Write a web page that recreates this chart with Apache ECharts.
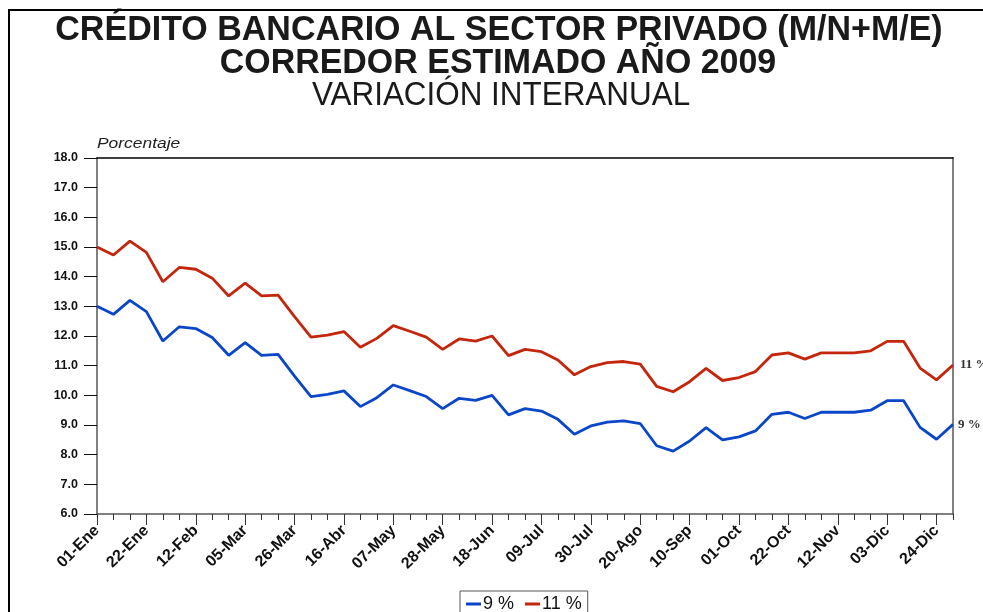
<!DOCTYPE html>
<html>
<head>
<meta charset="utf-8">
<script src="https://cdn.jsdelivr.net/npm/echarts@6/dist/echarts.min.js"></script>
<style>html,body{margin:0;padding:0;background:#fff;}#c{width:983px;height:612px;}</style>
</head>
<body>
<div id="c"></div>
<script>
const categories = ['01-Ene','08-Ene','15-Ene','22-Ene','29-Ene','05-Feb','12-Feb','19-Feb','26-Feb','05-Mar','12-Mar','19-Mar','26-Mar','02-Abr','09-Abr','16-Abr','23-Abr','30-Abr','07-May','14-May','21-May','28-May','04-Jun','11-Jun','18-Jun','25-Jun','02-Jul','09-Jul','16-Jul','23-Jul','30-Jul','06-Ago','13-Ago','20-Ago','27-Ago','03-Sep','10-Sep','17-Sep','24-Sep','01-Oct','08-Oct','15-Oct','22-Oct','29-Oct','05-Nov','12-Nov','19-Nov','26-Nov','03-Dic','10-Dic','17-Dic','24-Dic','31-Dic'];
const series9 = [13.0,12.73,13.2,12.82,11.83,12.31,12.25,11.95,11.35,11.78,11.35,11.38,10.65,9.96,10.03,10.15,9.62,9.92,10.35,10.16,9.96,9.55,9.9,9.83,10.0,9.34,9.55,9.47,9.19,8.69,8.97,9.1,9.14,9.05,8.3,8.12,8.46,8.91,8.5,8.6,8.8,9.36,9.43,9.22,9.43,9.43,9.43,9.5,9.82,9.82,8.92,8.52,9.02];
const series11 = [15.0,14.73,15.2,14.82,13.83,14.31,14.25,13.95,13.35,13.78,13.35,13.38,12.65,11.96,12.03,12.15,11.62,11.92,12.35,12.16,11.96,11.55,11.9,11.83,12.0,11.34,11.55,11.47,11.19,10.69,10.97,11.1,11.14,11.05,10.3,10.12,10.46,10.91,10.5,10.6,10.8,11.36,11.43,11.22,11.43,11.43,11.43,11.5,11.82,11.82,10.92,10.52,11.02];
const seriesNames = ['9 %','11 %'];
const titleLines = ['CRÉDITO BANCARIO AL SECTOR PRIVADO (M/N+M/E)','CORREDOR ESTIMADO AÑO 2009','VARIACIÓN INTERANUAL'];
const yName = 'Porcentaje';

const chart = echarts.init(document.getElementById('c'), null, {renderer:'canvas'});
const F = 'Liberation Sans, Arial, sans-serif';
const gridBox = {left:97, right:30, top:158, bottom:98, containLabel:false, outerBoundsMode:'none'};
const option = {
  animation:false,
  backgroundColor:'#fff',
  graphic:[
    {type:'rect', shape:{x:9,y:10,width:1100,height:800}, style:{fill:'none', stroke:'#000', lineWidth:2}, z:100},
    {type:'text', x:499, y:30, scaleX:0.972, style:{text:titleLines[0], font:'bold 35px '+F, fill:'#1a1a1a', align:'center', verticalAlign:'middle'}},
    {type:'text', x:498, y:63, scaleX:0.97, style:{text:titleLines[1], font:'bold 35px '+F, fill:'#1a1a1a', align:'center', verticalAlign:'middle'}},
    {type:'text', x:501, y:96, scaleX:0.952, style:{text:titleLines[2], font:'33px '+F, fill:'#1a1a1a', align:'center', verticalAlign:'middle'}},
    {type:'text', x:97, y:144, scaleX:1.16, style:{text:yName, font:'italic 15px '+F, fill:'#222', align:'left', verticalAlign:'middle'}}
  ],
  grid:[Object.assign({}, gridBox), Object.assign({}, gridBox)],
  legend:{
    data:seriesNames, top:591, left:460,
    borderColor:'#555', borderWidth:1, padding:[4,6,12,6],
    itemWidth:15, itemHeight:3, itemGap:11, icon:'rect',
    textStyle:{fontFamily:F, fontSize:18, color:'#111', padding:[0,0,0,-3]}
  },
  xAxis:[
    {type:'category', gridIndex:0, data:categories, boundaryGap:false, position:'bottom',
     axisLine:{lineStyle:{color:'#555', width:1.5}},
     axisTick:{interval:2, length:11, lineStyle:{color:'#333'}},
     axisLabel:{interval:2, rotate:45, fontFamily:F, fontWeight:'bold', fontSize:16, color:'#111', margin:14, overflow:'none', hideOverlap:false}},
    {type:'category', gridIndex:0, data:categories, boundaryGap:false, position:'top',
     axisLine:{lineStyle:{color:'#000', width:1.5}}, axisTick:{show:false}, axisLabel:{show:false}},
    {type:'category', gridIndex:1, data:categories, boundaryGap:false, position:'bottom',
     axisLine:{show:false}, axisTick:{interval:0, length:6, lineStyle:{color:'#333'}}, axisLabel:{show:false}}
  ],
  yAxis:[
    {type:'value', gridIndex:0, min:6, max:18, interval:1, position:'left',
     axisLine:{show:true, lineStyle:{color:'#808080', width:2}},
     axisTick:{show:true, length:13, lineStyle:{color:'#111'}},
     splitLine:{show:false},
     axisLabel:{formatter:v=>v.toFixed(1), fontFamily:F, fontWeight:'bold', fontSize:12.5, color:'#111', margin:19}},
    {type:'value', gridIndex:0, min:6, max:18, interval:1, position:'right',
     axisLine:{show:true, lineStyle:{color:'#808080', width:2}}, axisTick:{show:false}, axisLabel:{show:false}, splitLine:{show:false}},
    {type:'value', gridIndex:1, min:6, max:18, show:false}
  ],
  series:[
    {name:seriesNames[0], type:'line', xAxisIndex:0, yAxisIndex:0, data:series9, showSymbol:false, symbol:'none',
     lineStyle:{color:'#0A46C8', width:2.8}, itemStyle:{color:'#0A46C8'},
     endLabel:{show:true, formatter:'9 %', fontFamily:'Liberation Serif, serif', fontWeight:'bold', fontSize:13, color:'#333', distance:5}},
    {name:seriesNames[1], type:'line', xAxisIndex:0, yAxisIndex:0, data:series11, showSymbol:false, symbol:'none',
     lineStyle:{color:'#C4260C', width:2.8}, itemStyle:{color:'#C4260C'},
     endLabel:{show:true, formatter:'11 %', fontFamily:'Liberation Serif, serif', fontWeight:'bold', fontSize:13, color:'#333', distance:7}}
  ]
};
chart.setOption(option);
</script>
</body>
</html>
